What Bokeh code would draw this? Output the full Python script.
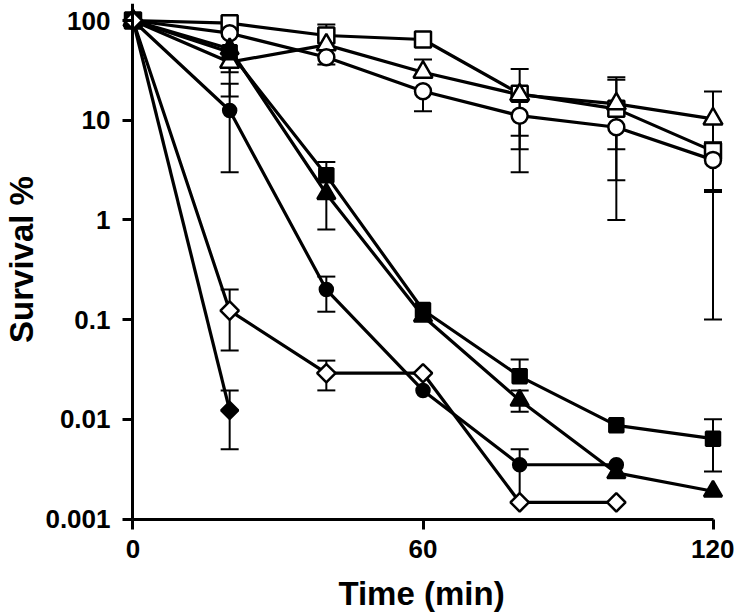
import numpy as np
from bokeh.plotting import figure
from bokeh.models import Range1d, FixedTicker, LogAxis, LinearAxis, Label
from bokeh.embed import file_html
from bokeh.resources import INLINE

# ---------------- data ----------------
time = [0, 20, 40, 60, 80, 100, 120]

open_square = [100, 94, 70.7, 64.5, 18.4, 13.0, 4.9]
open_square_lo = [None, None, None, None, 5.1, 2.5, 1.9]
open_square_hi = [None, None, 91, None, None, 25.5, 6.0]

open_triangle = [100, 38.2, 57, 30.3, 18.0, 14.6, 10.3]
open_triangle_lo = [None, 30.3, None, None, 7.0, 5.1, 2.0]
open_triangle_hi = [None, None, None, 40.6, 32.7, 27, 19.4]

open_circle = [100, 74.6, 42.8, 19.5, 11.1, 8.5, 4.0]
open_circle_lo = [None, None, 36.2, 12.3, 3.0, 1.0, 0.1]
open_circle_hi = [None, None, None, None, None, None, None]

filled_square = [100, 48, 2.8, 0.125, 0.027, 0.0087, 0.0064]
filled_square_lo = [None, None, None, None, None, None, 0.003]
filled_square_hi = [None, None, 3.8, None, 0.0397, None, 0.01]

filled_triangle = [100, 52, 1.83, 0.108, 0.0155, 0.0029, 0.0019]
filled_triangle_lo = [None, 17.3, 0.8, None, 0.0119, None, None]
filled_triangle_hi = [None, None, None, None, 0.0195, None, None]

filled_circle = [100, 12.5, 0.2, 0.0195, 0.0035, 0.0035]
filled_circle_lo = [None, 3.0, 0.12, None, 0.0015, None]
filled_circle_hi = [None, 23.2, 0.27, None, 0.005, None]

open_diamond = [100, 0.123, 0.029, 0.029, 0.00147, 0.00147]
open_diamond_lo = [None, 0.049, 0.0195, None, None, None]
open_diamond_hi = [None, 0.2, 0.0388, None, None, None]

filled_diamond = [100, 0.0123]
filled_diamond_lo = [None, 0.005]
filled_diamond_hi = [None, 0.0195]

x_ticks = [0, 60, 120]
y_ticks = [0.001, 0.01, 0.1, 1, 10, 100]
y_tick_labels = ["0.001", "0.01", "0.1", "1", "10", "100"]

x_title = "Time (min)"
y_title = "Survival %"

# ---------------- styles ----------------
series = [
    (open_square, open_square_lo, open_square_hi, dict(marker="square", size=16, fill_color="white", angle=0)),
    (open_triangle, open_triangle_lo, open_triangle_hi, dict(marker="triangle", size=19, fill_color="white", angle=0)),
    (open_circle, open_circle_lo, open_circle_hi, dict(marker="circle", size=16, fill_color="white", angle=0)),
    (filled_square, filled_square_lo, filled_square_hi, dict(marker="square", size=14, fill_color="black", angle=0)),
    (filled_triangle, filled_triangle_lo, filled_triangle_hi, dict(marker="triangle", size=18, fill_color="black", angle=0)),
    (filled_circle, filled_circle_lo, filled_circle_hi, dict(marker="circle", size=13, fill_color="black", angle=0)),
    (filled_diamond, filled_diamond_lo, filled_diamond_hi, dict(marker="square", size=12, fill_color="black", angle=np.pi / 4)),
    (open_diamond, open_diamond_lo, open_diamond_hi, dict(marker="square", size=13, fill_color="white", angle=np.pi / 4)),
]

FONT = "Liberation Sans"

p = figure(width=734, height=616, y_axis_type="log",
           x_range=Range1d(-2.586, 123.62), y_range=Range1d(0.000767, 148.1),
           output_backend="svg", toolbar_location=None,
           min_border_left=120, min_border_right=4, min_border_top=3, min_border_bottom=86)
p.outline_line_color = None
p.grid.visible = False
p.background_fill_color = "white"
p.border_fill_color = "white"

# lines
for vals, lo, hi, st in series:
    xs = time[:len(vals)]
    p.line(xs, vals, line_color="black", line_width=3.2)

# error bars
for vals, lo, hi, st in series:
    xs = time[:len(vals)]
    sx, sy0, sy1, cx, cy = [], [], [], [], []
    for x, v, l, h in zip(xs, vals, lo, hi):
        if l is None and h is None:
            continue
        sx.append(x)
        sy0.append(l if l is not None else v)
        sy1.append(h if h is not None else v)
        if l is not None:
            cx.append(x); cy.append(l)
        if h is not None:
            cx.append(x); cy.append(h)
    if sx:
        p.segment(sx, sy0, sx, sy1, line_color="black", line_width=2)
        p.scatter(cx, cy, marker="dash", size=18, line_color="black", line_width=2)

# markers
for vals, lo, hi, st in series:
    xs = time[:len(vals)]
    p.scatter(xs, vals, marker=st["marker"], size=st["size"], angle=st["angle"],
              fill_color=st["fill_color"], line_color="black", line_width=2.5)

def label_only(ax, standoff):
    ax.axis_line_color = None
    ax.major_tick_line_color = None
    ax.major_tick_out = 0
    ax.major_tick_in = 0
    ax.minor_tick_line_color = None
    ax.major_label_standoff = standoff
    ax.major_label_text_font = FONT
    ax.major_label_text_font_style = "bold"
    ax.major_label_text_font_size = "26px"
    ax.major_label_text_color = "black"

# bottom axis: tick labels only
xa = p.xaxis[0]
xa.ticker = FixedTicker(ticks=x_ticks)
label_only(xa, -28)

# left axis: tick labels only
ya = p.yaxis[0]
ya.ticker = FixedTicker(ticks=y_ticks)
ya.major_label_overrides = dict(zip(y_ticks, y_tick_labels))
label_only(ya, 10)

# axis lines + ticks drawn at x = 0 and y = 0.001
line_style = dict(axis_line_width=3, axis_line_color="black",
                  major_tick_line_width=3, major_tick_line_color="black",
                  major_tick_in=10, major_tick_out=0, minor_tick_line_color=None,
                  major_label_text_font_size="1px", major_label_text_alpha=0,
                  major_label_standoff=0)
yline = LogAxis(ticker=FixedTicker(ticks=y_ticks), fixed_location=0,
                bounds=(y_ticks[0], 1000), **line_style)
p.add_layout(yline, "right")
xline = LinearAxis(ticker=FixedTicker(ticks=x_ticks), fixed_location=y_ticks[0],
                   bounds=(x_ticks[0], x_ticks[-1]), **line_style)
p.add_layout(xline, "above")

# axis titles (in side panels so they are not clipped)
x_label = Label(x=301, y=-26, x_units="screen", y_units="screen", text=x_title,
                text_align="center", text_baseline="middle", text_font=FONT,
                text_font_style="bold", text_font_size="33px", text_color="black")
p.below = [x_label, xa]
p.add_layout(Label(x=16, y=271, x_units="screen", y_units="screen", text=y_title,
                   angle=np.pi / 2, text_align="center", text_baseline="middle", text_font=FONT,
                   text_font_style="bold", text_font_size="33px", text_color="black"), "left")

open("out.html", "w").write(file_html(p, INLINE))
